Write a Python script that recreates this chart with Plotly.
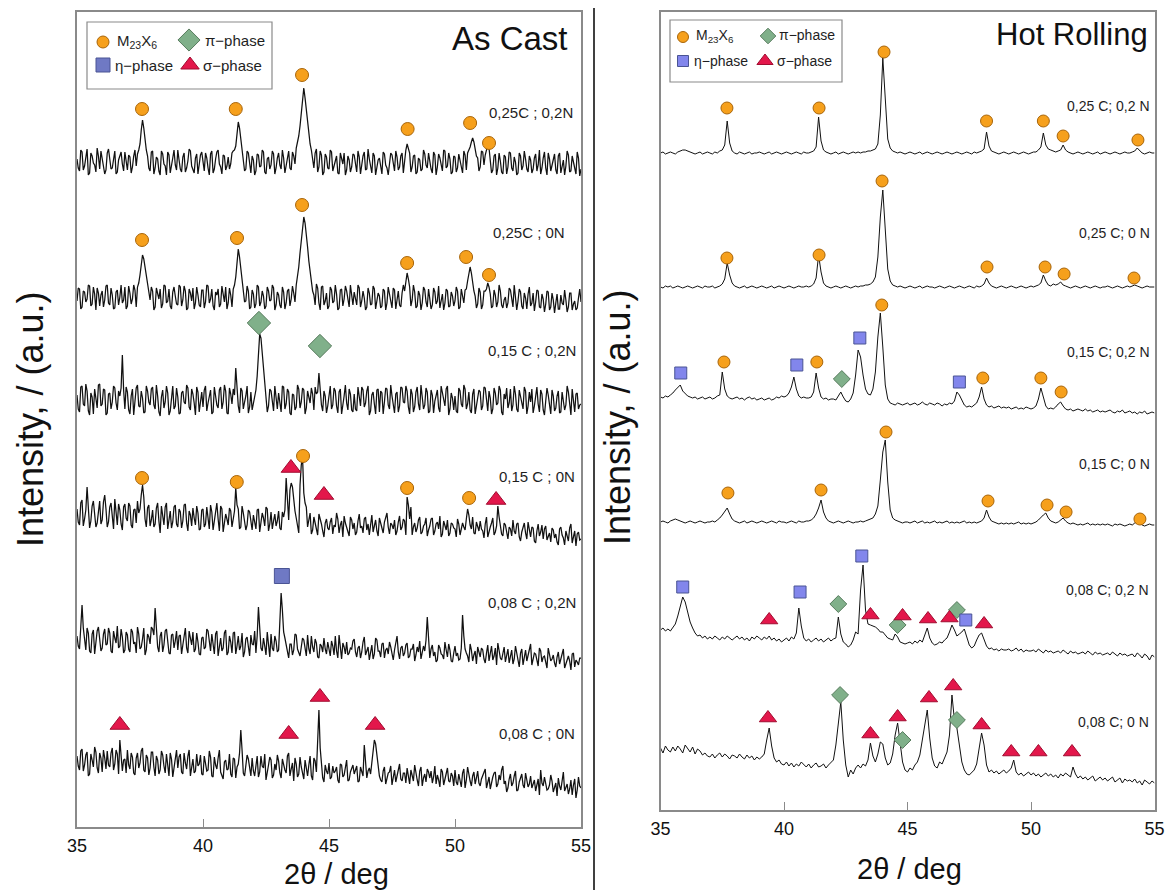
import plotly.graph_objects as go

# ---------------- data ----------------
TWO_THETA = [round(35 + 0.1 * i, 2) for i in range(201)]          # hot-rolling scan grid, deg
TWO_THETA_FINE = [round(35 + 0.05 * i, 2) for i in range(401)]    # as-cast scan grid, deg

# As Cast panel (intensity, a.u., relative to each pattern's own baseline)
AC_LABELS = ["0,25C ; 0,2N", "0,25C ; 0N", "0,15 C ; 0,2N", "0,15 C ; 0N", "0,08 C ; 0,2N", "0,08 C ; 0N"]
AC_OFFSETS = [665, 530, 427, 312, 187, 65]

# readings at 35.0, 35.1, ... 55.0
AC_025C_02N = [3,-9,10,-4,13,-11,6,-3,14,-7, 4,-12,9,1,-6,11,-10,7,-2,10, -8,5,-5,12,8,18,42,20,6,-9,
               11,-6,3,-13,8,-4,10,-11,4,-3, 12,-7,5,-10,1,11,-9,4,-12,7, -3,9,-6,8,-11,3,12,-5,7,-8,
               5,-2,11,16,40,22,4,-7,9,-11, 2,-9,7,-4,10,-12,5,-3,8,-6, 9,-7,4,-2,11,-8,6,14,26,48,
               74,52,28,12,-6,13,-5,7,-10,5, -7,10,-3,6,-12,4,9,-8,2,-5, 7,-10,5,-2,10,-7,3,-11,6,-3,
               4,-12,8,-6,1,7,-9,5,-5,9, 3,18,9,-5,7,-10,2,-7,8,-6, 0,-11,7,-5,4,-9,11,-4,3,-10,
               5,-6,2,-11,7,9,15,24,12,4, -5,10,7,17,4,-8,8,-6,1,-12, 5,-5,9,-9,0,-11,6,-4,3,-10,
               2,-7,8,-3,-12,4,-6,9,-9,1, -8,6,-11,2,-4,7,-9,0,-12,4, -7]
AC_025C_0N = [-4,8,-10,5,-2,11,-7,3,9,-9, 6,-3,12,-8,2,-11,7,0,-6,10, -9,4,-2,7,10,22,42,30,12,-3,
              6,-10,3,8,-7,11,-4,-9,5,1, -8,10,-3,6,-11,4,9,-6,2,-10, 7,-5,11,-2,-9,5,8,-7,3,10,
              -6,2,8,20,48,28,9,-4,6,-10, 3,-7,10,-5,1,-9,6,-3,9,-8, 2,-11,5,-6,8,-2,4,12,30,56,
              80,64,36,14,2,13,-6,10,-8,4, -9,7,-4,3,-11,8,-2,6,-10,2, 5,-8,9,-4,-1,-10,4,-7,8,-5,
              1,-9,6,-6,3,-11,7,-2,-8,4, 6,24,10,-3,5,-9,2,-6,7,-10, -2,-8,5,-4,-11,3,-6,6,-9,1,
              -4,6,-10,2,7,16,30,14,1,-7, 5,-8,6,14,3,-9,2,-5,6,-11, 0,-6,7,-10,2,-4,5,-12,-1,3,
              -9,4,-5,6,-11,-2,-7,5,-10,-3, -6,-12,2,-8,-3,-10,4,-7,-13,-1, -5]
AC_015C_02N = [5,-12,14,-6,9,-15,3,11,-8,16, -4,10,-13,7,-2,12,-10,4,45,-9, 8,-14,11,-3,15,-7,2,-12,9,-5,
               13,-9,4,-16,10,-2,7,-11,14,-6, 3,-13,9,-4,12,-10,6,-15,8,1, -7,14,-3,10,-12,5,-8,13,-2,9,
               -14,6,11,32,-6,12,-9,4,-13,8, -3,10,50,62,30,8,-6,9,-11,3, 7,-12,13,-4,8,-15,5,-7,11,-2,
               10,-8,4,12,-10,6,27,-5,9,-13, 3,-9,12,-6,8,-14,4,-3,11,-10, 6,-11,2,13,-7,9,-15,5,-4,10,
               -12,7,-2,11,-9,4,-13,8,-6,12, -3,9,-14,6,-7,13,-10,3,-5,8, -11,5,-1,10,-12,7,-6,14,-9,2,
               4,-13,9,-7,11,-4,-10,6,-14,3, 8,-6,12,-11,2,-9,7,-3,10,-15, 1,-8,11,-5,6,-12,3,-9,9,-6,
               -2,-13,7,-4,10,-10,-1,5,-14,4, -8,9,-12,1,-5,8,-15,-2,6,-9, -4]
AC_015C_0N = [6,-10,15,-4,28,-13,9,2,-8,14, -5,20,-12,8,-1,16,-10,5,-15,11, -6,9,-13,6,14,6,30,-4,7,-11,
              5,-9,12,-18,1,8,-14,4,-7,10, -12,3,-6,11,-16,0,7,-10,2,-14, 6,-9,-1,10,-15,3,-4,9,-17,1,
              -10,4,-3,27,6,-12,2,-15,5,-8, 0,-14,6,-9,-3,8,-16,3,-6,-11, 4,-15,-2,37,-5,32,14,-3,-18,50,
              22,8,-6,-19,-2,-14,1,-9,-22,-4, -15,-3,-10,2,-18,-6,-1,-13,-21,-5, -8,-17,1,-11,-4,-15,-20,0,-9,-16,
              -3,-14,-7,2,-19,-10,-5,-16,-1,-12, -6,18,-4,-20,-8,-13,-2,-17,-9,-21, -11,-3,-16,-7,-1,-19,-12,-5,-18,-9,
              -14,-4,-20,-8,-15,6,-10,-2,-19,-11, -6,-16,-9,-22,-12,-3,-17,9,-13,-21, -10,-24,-14,-5,-19,-8,-26,-12,-18,-7,
              -22,-13,-28,-9,-17,-24,-11,-20,-27,-15, -19,-30,-12,-23,-16,-26,-9,-21,-31,-17, -24]
AC_008C_02N = [4,-9,35,-3,12,-11,6,-14,9,-2, -8,11,-4,7,-13,2,14,-6,3,-10, 5,-12,8,-2,13,-9,1,-15,6,-4,
               11,32,-7,4,-12,9,-3,-14,6,-1, -10,5,-5,12,-13,1,8,-9,-2,-15, 3,-7,9,-11,-4,6,-16,2,-8,10,
               -12,-2,7,-14,4,-6,-17,1,-10,5, -5,-13,33,-8,2,-15,-3,6,-11,-1, -10,47,8,-6,-18,-4,-10,5,-13,-7,
               0,-16,-9,4,-12,-3,-18,-6,2,-14, -8,-1,-15,-11,5,-19,-7,-2,-13,-9, 1,-17,-6,-12,3,-10,-20,-5,-14,0,
               -11,-4,-18,-8,-2,-15,-10,4,-19,-6, -13,-3,-16,-9,-21,-7,-1,-14,-11,23, -18,-5,-12,-20,-8,-15,-2,-17,-10,-22,
               -6,-13,-19,25,-9,-16,-4,-21,-11,-7, -17,-10,-23,-5,-14,-20,-8,-3,-18,-12, -22,-9,-15,-24,-6,-19,-13,-25,-10,-16,
               -4,-20,-14,-26,-11,-17,-23,-8,-21,-15, -27,-12,-19,-9,-24,-16,-30,-13,-20,-25, -18]
AC_008C_0N = [6,-8,13,-3,10,-12,2,15,-6,9, -10,4,11,-5,14,-2,8,22,-9,3, 12,-7,5,-13,9,-1,14,-10,4,-6,
              10,-14,2,-8,7,-11,-3,9,-15,1, -6,8,-12,-1,6,-14,3,-9,-4,7, -13,0,-8,5,-15,-3,4,-10,-17,2,
              -7,-12,4,-16,-2,32,-11,-5,3,-14, -9,-1,-15,6,-6,-18,-3,2,-13,-8, 1,-16,-4,-11,9,-7,-19,-2,-12,-5,
              -17,-8,-3,-14,4,-10,52,-6,-20,-9, -1,-15,-11,-5,-21,-3,-13,2,-18,-7, -12,-4,-19,-9,17,-16,-6,-1,22,8,
              -14,-20,-5,-17,-10,-23,-8,-13,-2,-19, -11,-6,-22,-15,-3,-18,-9,-24,-12,-7, -16,-21,-4,-13,-25,-10,-18,-6,-20,-14,
              -8,-23,-17,-11,-26,-5,-19,-14,-22,-9, -24,-13,-7,-20,-27,-15,-10,-22,-18,-4, -19,-26,-12,-21,-9,-28,-16,-23,-11,-25,
              -14,-22,-29,-17,-8,-24,-20,-27,-13,-30, -21,-16,-28,-10,-25,-32,-18,-23,-36,-15, -26]

# readings at 35.05, 35.15, ... 54.95
AC_025C_02N_MID = [-6,12,-8,5,-13,9,-1,-10,6,11, -4,-8,13,-7,4,-12,2,10,-9,3, 7,-11,6,-4,12,32,34,12,-6,10,
                   -12,5,-9,11,-2,-13,7,-5,12,-8, 2,-10,9,-6,13,-4,-11,8,-3,10, -9,4,-13,11,-7,10,-2,-12,6,-4,
                   -7,9,12,30,34,12,-9,11,-4,6, -13,8,-5,12,-10,3,-7,11,-12,4, -3,12,-11,7,-6,10,-2,20,36,66,
                   64,40,18,4,9,-10,11,-13,8,-6, 12,-9,3,-11,9,-2,-13,6,-10,8, -4,11,-12,6,-8,13,-5,9,-13,2,
                   -6,10,-3,-13,9,-2,11,-8,6,-11, 12,14,-10,6,-12,4,-9,12,-3,9, -7,10,-13,8,-2,12,-6,9,-12,6,
                   -10,8,-5,11,-8,12,20,20,6,-9, 11,-3,12,14,-11,6,-13,9,-10,7, -12,10,-6,5,-13,9,-8,11,-7,6,
                   -11,4,-9,12,-6,10,-13,3,-4,8, -12,9,-6,-13,11,-10,6,-8,10,-14]
AC_025C_0N_MID = [9,-12,6,-5,12,-9,10,-13,4,2, -10,11,-6,9,-12,5,-8,12,-3,-12, 11,-7,12,-10,14,34,38,20,4,10,
                  -13,9,-2,-11,12,-6,8,-12,10,-7, 12,-9,11,-13,8,-4,-12,10,-8,7, -11,12,-6,8,-13,2,-10,11,-5,-12,
                  9,-10,12,36,40,18,-5,11,-12,7, -11,12,-9,6,-12,10,-4,12,-13,5, -8,10,-12,6,-9,11,-5,20,44,70,
                  74,50,24,6,-8,9,-13,11,-4,-12, 10,-6,12,-13,7,-9,11,-5,12,-8, -3,12,-10,6,-13,9,-8,11,-12,4,
                  -11,8,-13,10,-4,9,-12,6,-10,12, 16,18,-9,12,-11,6,-13,10,-5,8, -12,9,-7,11,-4,-13,8,-10,5,-9,
                  10,-12,8,-6,8,24,24,6,-11,9, -12,6,8,10,-11,7,-10,12,-8,-3, -11,9,-5,12,-13,8,-9,4,-12,10,
                  -6,-14,7,-10,3,-15,6,-13,4,-16, 3,-12,-6,7,-15,4,-13,-4,-11,8]
AC_015C_02N_MID = [-9,13,-4,16,-11,7,-14,2,15,-6, 11,-15,6,-9,14,-3,9,12,10,13, -10,4,-15,12,-6,9,-13,14,-2,11,
                   -5,15,-12,3,-8,14,-15,6,-9,12, -14,7,-2,15,-7,11,-3,13,-12,8, 10,-11,6,-14,13,-5,10,-9,15,-13,
                   12,-4,5,8,-13,9,-2,14,-7,-10, 6,24,66,48,16,-12,11,-5,14,-9, -4,14,-9,11,-13,6,-10,15,-8,12,
                   -14,9,-3,6,13,8,12,-11,4,-6, 14,-5,9,-13,11,-7,15,-10,6,-12, -9,13,-6,10,-3,14,-11,8,-14,11,
                   9,-14,12,-5,15,-8,6,-12,13,-2, 14,-7,11,-12,8,-4,15,-9,12,-13, 10,-13,6,-8,14,-2,11,-15,7,-10,
                   -11,12,-4,15,-9,8,-13,11,-6,10, -10,13,-2,9,-14,12,-5,14,-12,6, 12,-3,-11,14,-9,10,-4,13,-14,8,
                   11,-6,13,-12,6,-15,12,-8,10,-11, 4,-13,8,-10,14,-3,11,-12,7,-5]
AC_015C_0N_MID = [-7,12,-11,5,8,-6,14,-12,3,-9, 13,6,-7,12,-14,4,11,-9,8,-3, 12,-10,5,-8,2,20,18,-12,10,-5,
                  -12,7,-6,9,-10,12,-5,-13,8,-9, 6,-13,10,-8,4,-11,-3,9,-15,5, -12,8,-14,3,-7,12,-16,6,-10,-4,
                  7,-12,4,10,-14,9,-6,-10,3,-15, -8,5,-17,2,-11,6,-9,-14,1,-6, -13,3,5,20,25,28,4,-10,30,58,
                  12,-12,2,-15,-7,-20,-3,-16,-8,-13, -7,-19,-12,-4,-10,-22,-8,-16,-2,-14, -20,-6,-13,-18,-2,-9,-10,-17,-5,-21,
                  -9,-18,-2,-12,-8,-14,-20,-7,-15,-4, -20,10,8,-12,-17,-5,-19,-11,-3,-15, -4,-20,-9,-14,-22,-6,-15,-21,-8,-13,
                  -22,-9,-15,-12,-4,0,-14,-18,-7,-16, -14,-23,-2,-15,-8,-20,-11,-2,-19,-8, -18,-12,-21,-16,-9,-22,-17,-8,-24,-14,
                  -12,-26,-16,-21,-10,-14,-25,-18,-13,-23, -27,-14,-20,-30,-22,-13,-28,-16,-19,-25]
AC_008C_02N_MID = [-6,8,12,-10,7,-13,10,-4,13,-11, 6,-5,12,-11,9,-3,-8,11,-13,8, -9,11,-4,-13,6,-7,12,-10,3,13,
                   5,10,-12,8,-5,11,-13,5,-8,9, 4,-14,6,-8,9,-5,-12,7,-14,2, -9,11,-3,6,-14,9,-5,-11,7,-15,
                   4,-13,8,-6,-10,7,-12,3,-16,-4, 9,4,6,-11,-6,8,-17,-8,4,-12, 12,30,2,-12,-4,-15,6,-9,-16,2,
                   -10,5,-14,-7,1,-17,-4,-12,-9,-2, -16,-6,4,-18,-10,-3,-14,-15,-8,-1, -12,-8,-18,-2,-15,-7,-13,-19,2,-11,
                   -17,-3,-10,-14,-7,-20,-1,-12,-8,-16, -5,-18,-9,-4,-15,-12,-19,-6,0,2, -9,-16,-22,-5,-14,-19,-10,-4,-21,-13,
                   -16,-20,-8,4,-13,-22,-10,-15,-24,-12, -8,-19,-13,-21,-6,-16,-25,-11,-20,-7, -16,-23,-10,-19,-14,-27,-9,-18,-21,-11,
                   -25,-13,-19,-8,-22,-16,-28,-14,-19,-23, -17,-24,-12,-28,-19,-21,-14,-27,-22,-18]
AC_008C_0N_MID = [-4,11,-9,7,-14,8,-5,10,-11,4, 12,-7,-3,9,-8,12,-12,6,2,-11, -3,9,-11,4,-6,11,-8,7,-13,10,
                  -5,6,-12,11,-4,8,-14,3,-7,12, 5,-10,9,-7,12,-6,-11,8,-2,-12, 6,-9,11,-14,5,-7,12,-13,0,-8,
                  8,-15,3,-5,9,12,-14,7,-9,4, -14,6,-10,-4,8,-12,5,-16,-2,7, -11,3,-8,6,-14,-1,4,-15,5,-12,
                  2,-14,6,-18,1,20,14,-16,-3,-12, -17,-4,-9,-18,-2,-15,-6,-19,-10,-3, -8,-20,-5,-14,4,-9,-12,12,18,-6,
                  -18,-9,-22,-11,-4,-16,-20,-6,-17,-11, -21,-14,-8,-19,-12,-24,-5,-16,-20,-10, -9,-15,-22,-18,-7,-23,-13,-19,-11,-24,
                  -20,-12,-25,-7,-18,-14,-24,-10,-16,-21, -17,-9,-26,-15,-19,-11,-25,-13,-8,-22, -30,-17,-24,-14,-29,-20,-12,-26,-19,-22,
                  -26,-18,-24,-33,-21,-15,-28,-23,-19,-25, -34,-24,-19,-29,-22,-27,-33,-17,-28,-24]

# Hot Rolling panel, readings at 35.0, 35.1, ... 55.0
HR_LABELS = ["0,25 C; 0,2 N", "0,25 C; 0 N", "0,15 C; 0,2 N", "0,15 C; 0 N", "0,08 C; 0,2 N", "0,08 C; 0 N"]
HR_OFFSETS = [657, 523, 413, 288, 180, 60]

HR_025C_02N = [0,1,-1,0,1,0,-1,1,2,3, 3,2,1,0,-1,0,1,-1,0,1, 0,-1,1,0,2,3,8,32,10,2,
               0,-1,1,0,-1,0,1,-1,0,0, 1,0,-1,0,1,-1,0,1,0,-1, 0,1,0,-1,0,1,0,-1,1,0,
               0,1,2,6,36,12,3,1,0,-1, 0,1,-1,0,1,0,-1,0,1,0, 1,0,1,1,2,2,3,4,9,38,
               95,52,14,5,2,1,0,1,0,-1, 0,1,0,-1,0,1,-1,0,1,0, -1,0,1,0,-1,0,1,0,-1,0,
               1,0,-1,0,1,0,-1,1,0,1, 2,4,21,7,2,1,0,-1,0,1, 0,-1,0,1,0,-1,0,1,0,-1,
               0,1,1,3,6,20,8,4,3,2, 1,2,3,8,3,1,0,-1,0,1, 0,-1,0,1,0,-1,0,1,-1,0,
               1,0,-1,0,1,0,-1,0,1,0, 0,1,2,5,2,0,-1,0,1,0, 0]
HR_025C_0N = [0,-1,1,0,1,-1,0,1,0,-1, 0,1,0,-1,0,1,0,-1,1,0, 0,1,-1,0,1,3,8,24,12,4,
              1,0,-1,0,1,-1,0,1,0,-1, 0,1,0,-1,0,1,-1,0,1,0, -1,0,1,0,-1,0,1,0,0,1,
              0,1,3,9,32,15,4,1,0,-1, 0,1,0,-1,0,1,0,-1,0,1, 0,1,1,2,2,3,5,10,30,70,
              97,58,18,6,2,1,0,1,0,-1, 0,1,0,-1,0,1,-1,0,1,0, 0,-1,0,1,0,-1,0,1,0,-1,
              0,1,0,-1,0,1,0,-1,1,0, 1,3,9,4,1,0,-1,0,1,0, -1,0,1,0,-1,0,1,0,-1,0,
              1,0,1,2,4,12,6,2,1,3, 2,3,5,2,1,0,-1,0,1,0, -1,0,1,0,-1,0,1,0,-1,0,
              0,1,0,-1,0,1,0,-1,0,1, 0,1,2,1,0,-1,0,1,0,0, 0]
HR_015C_02N = [0,-1,1,0,2,4,7,10,12,6, 3,1,0,-1,0,-2,-1,0,-2,-1, 0,-2,-1,1,2,25,8,1,-1,-2,
               -1,0,-2,-1,-3,-1,0,-2,-1,-3, -2,-1,-3,-2,-1,-3,-2,0,-1,1, 0,1,4,10,20,8,1,-1,0,-1,
               -1,0,5,24,9,0,-2,-1,-3,-2, -2,-3,1,5,0,-4,-5,-2,4,22, 47,40,22,8,3,2,8,25,60,84,
               50,12,-2,-6,-7,-8,-6,-7,-8,-7, -6,-8,-7,-6,-8,-7,-5,-7,-8,-6, -7,-8,-6,-7,-9,-7,-8,-6,-7,-4,
               5,2,-3,-8,-10,-9,-10,-8,-6,0, 10,-2,-8,-10,-9,-11,-10,-9,-11,-10, -11,-10,-12,-11,-10,-12,-11,-12,-10,-11,
               -12,-11,-9,-2,9,0,-9,-12,-11,-12, -10,-7,-5,-9,-12,-13,-12,-14,-13,-12, -13,-14,-12,-14,-13,-15,-14,-13,-15,-14,
               -15,-14,-13,-15,-16,-14,-15,-13,-16,-15, -14,-16,-15,-17,-15,-16,-14,-17,-16,-15, -16]
HR_015C_0N = [0,1,0,-1,1,2,3,2,1,0, -1,0,1,0,-1,0,1,0,-1,0, 0,1,0,2,4,7,11,14,8,3,
              1,0,-1,0,1,-1,0,1,0,-1, 0,1,0,-1,0,1,0,-1,1,0, 0,-1,0,1,0,-1,1,0,0,1,
              1,2,4,8,14,22,10,4,1,0, -1,0,1,0,-1,0,1,0,-1,0, 0,1,0,1,2,3,4,8,16,42,
              70,82,40,12,4,2,1,0,-1,0, 0,-1,0,1,-1,0,1,-1,0,-1, 0,1,-1,0,-1,0,1,-1,0,-1,
              0,-1,0,1,-1,0,-1,0,-1,0, 1,4,12,5,1,0,-1,-2,-1,-2, -1,-2,-1,-2,-1,0,-2,-1,-2,-1,
              -2,-1,0,2,5,7,9,4,1,0, -1,0,2,4,1,-1,-2,-1,-2,-3, -2,-3,-2,-1,-3,-2,-3,-2,-3,-2,
              -3,-2,-3,-4,-2,-3,-2,-3,-4,-3, -2,-3,-1,0,-1,-3,-4,-3,-2,-3, -3]
HR_008C_02N = [0,2,-1,1,-1,2,6,14,24,33, 28,18,8,2,-3,-6,-5,-8,-6,-9, -7,-9,-6,-8,-10,-7,-9,-6,-8,-10,
               -8,-6,-9,-7,-10,-8,-11,-7,-9,-6, -8,-10,-7,-9,-6,-10,-8,-11,-9,-12, -10,-8,-11,-7,-9,-3,22,4,-8,-11,
               -9,-12,-10,-8,-11,-9,-12,-10,-8,-11, -9,-8,13,-4,-12,-14,-17,-15,-10,-2, -4,40,65,20,6,5,4,3,1,-2,
               -2,-5,-8,-9,-10,-4,-7,-12,-13,-14, -13,-12,-14,-11,-13,-10,-12,-5,2,-8, -13,-15,-14,-12,-13,-10,-8,-2,5,0,
               -6,-4,-2,1,-8,-15,-18,-16,-10,-5, -3,-10,-16,-19,-18,-20,-19,-21,-19,-20, -20,-19,-21,-20,-18,-21,-19,-22,-20,-21,
               -21,-20,-22,-19,-21,-23,-20,-22,-21,-23, -22,-21,-23,-20,-22,-24,-21,-23,-22,-24, -23,-22,-24,-21,-23,-25,-22,-24,-23,-25,
               -24,-23,-25,-22,-24,-26,-23,-25,-24,-26, -25,-24,-27,-23,-25,-28,-24,-26,-30,-25, -27]
HR_008C_0N = [2,-3,4,0,-2,3,-1,4,1,-3, 5,2,-2,3,-4,1,-1,-5,-3,-6, -7,-4,-8,-5,-3,-7,-4,-6,-9,-5,
              -6,-8,-4,-7,-9,-5,-8,-6,-10,-7, -9,-7,-4,10,22,4,-8,-12,-10,-14, -15,-12,-16,-13,-17,-14,-16,-12,-15,-17,
              -14,-18,-15,-13,-17,-16,-14,-18,-15,-12, -10,5,30,48,10,-15,-27,-20,-24,-18, -15,-18,-14,-16,-10,7,-6,-12,-4,8,
              6,-8,-15,-13,-4,15,27,10,-12,-20, -22,-18,-20,-15,-12,-5,10,25,40,12, -8,-16,-18,-12,-14,-8,-2,15,55,30,
              22,5,-12,-20,-24,-25,-22,-20,-14,0, 17,5,-15,-22,-20,-23,-21,-24,-22,-20, -23,-21,-18,-10,-22,-25,-23,-26,-24,-22,
              -25,-23,-26,-24,-27,-25,-23,-26,-24,-27, -25,-28,-24,-26,-23,-25,-27,-17,-24,-28, -26,-29,-27,-30,-28,-26,-31,-29,-27,-30,
              -28,-31,-29,-27,-32,-30,-28,-33,-29,-31, -30,-32,-29,-33,-31,-35,-30,-32,-34,-31, -33]

AC_COARSE = [AC_025C_02N, AC_025C_0N, AC_015C_02N, AC_015C_0N, AC_008C_02N, AC_008C_0N]
AC_MID = [AC_025C_02N_MID, AC_025C_0N_MID, AC_015C_02N_MID, AC_015C_0N_MID, AC_008C_02N_MID, AC_008C_0N_MID]
HR_SERIES = [HR_025C_02N, HR_025C_0N, HR_015C_02N, HR_015C_0N, HR_008C_02N, HR_008C_0N]

# phase identification marks (2theta, stacked intensity)
AC_MARK_PHASE = ["M"]*6 + ["M"]*6 + ["pi"]*2 + ["M"]*5 + ["sigma"]*3 + ["eta"] + ["sigma"]*4
AC_MARK_X = [37.58, 41.3, 43.93, 48.12, 50.6, 51.35,
             37.58, 41.35, 43.93, 48.1, 50.44, 51.35,
             42.22, 44.64,
             37.58, 41.34, 43.97, 48.1, 50.56, 43.49, 44.8, 51.63,
             43.13,
             36.7, 43.4, 44.64, 46.83]
AC_MARK_Y = [718, 718, 752, 698, 704, 684,
             587, 589, 622, 564, 570, 552,
             504, 481,
             349, 345, 371, 339, 329, 359, 332, 327,
             251,
             102, 93, 130, 102]

HR_MARK_PHASE = (["M"]*7 + ["M"]*7 + ["eta"]*4 + ["M"]*6 + ["pi"] + ["M"]*7
                 + ["eta"]*4 + ["pi"]*3 + ["sigma"]*6 + ["sigma"]*9 + ["pi"]*3)
HR_MARK_X = [37.69, 41.42, 44.05, 48.2, 50.5, 51.3, 54.33,
             37.69, 41.42, 43.97, 48.22, 50.57, 51.34, 54.17,
             35.82, 40.52, 43.07, 47.1, 37.57, 41.33, 43.96, 48.05, 50.4, 51.22, 42.34,
             37.73, 41.5, 44.13, 48.26, 50.65, 51.42, 54.41,
             35.9, 40.65, 43.15, 47.36, 42.2, 44.6, 47.0, 39.4, 43.5, 44.8, 45.83, 46.7, 48.1,
             39.35, 43.5, 44.6, 45.87, 46.85, 48.0, 49.2, 50.3, 51.66, 42.27, 44.8, 47.0]
HR_MARK_Y = [702, 702, 758, 689, 689, 674, 670,
             552, 555, 629, 543, 543, 536, 532,
             437, 445, 472, 428, 448, 448, 505, 432, 432, 418, 431,
             317, 320, 378, 309, 305, 298, 291,
             223, 218, 254, 190, 206, 185, 200, 190, 195, 194, 191, 192, 186,
             92, 76, 93, 112, 124, 85, 58, 58, 58, 115, 70, 90]

PHASES = ["M", "pi", "eta", "sigma"]
LEGEND_TEXT = {"M": "M<sub>23</sub>X<sub>6</sub>", "pi": "π−phase", "eta": "η−phase", "sigma": "σ−phase"}

# ---------------- styles ----------------
FONT = "Liberation Sans, Arial, sans-serif"
STYLE = {
    "M": dict(symbol="circle", color="#F6A01C", line=dict(color="#A8650A", width=1)),
    "pi": dict(symbol="diamond", color="#80B08A", line=dict(color="#587C5E", width=1)),
    "eta": dict(symbol="square", color="#6F79C4", line=dict(color="#4A5494", width=1)),
    "sigma": dict(symbol="triangle-up", color="#E3174B", line=dict(color="#A00D30", width=1)),
}
SIZE_L = {"M": 13, "pi": 18, "eta": 15, "sigma": 17}
SIZE_R = {"M": 12, "pi": 13, "eta": 12, "sigma": 15}
ETA_R_COLOR = "#8286EC"

for s in AC_COARSE + HR_SERIES:
    if len(s) != 201:
        raise ValueError(f"coarse series length {len(s)}")
for s in AC_MID:
    if len(s) != 200:
        raise ValueError(f"mid series length {len(s)}")

def merge(coarse, mid):
    out = []
    for a, b in zip(coarse, mid):
        out += [a, b]
    return out + [coarse[-1]]

fig = go.Figure()

# patterns
for c, m, off in zip(AC_COARSE, AC_MID, AC_OFFSETS):
    fig.add_trace(go.Scatter(x=TWO_THETA_FINE, y=[off + v for v in merge(c, m)], mode="lines",
                             line=dict(color="#111111", width=1.25), xaxis="x", yaxis="y",
                             showlegend=False, hoverinfo="skip"))
for vals, off in zip(HR_SERIES, HR_OFFSETS):
    fig.add_trace(go.Scatter(x=TWO_THETA, y=[off + v for v in vals], mode="lines",
                             line=dict(color="#111111", width=1), xaxis="x2", yaxis="y2",
                             showlegend=False, hoverinfo="skip"))

def add_marks(phases, xs, ys, xa, ya, sizes, right):
    for ph in PHASES:
        px = [x for p, x in zip(phases, xs) if p == ph]
        py = [y for p, y in zip(phases, ys) if p == ph]
        if not px:
            continue
        st = STYLE[ph]
        col = ETA_R_COLOR if (right and ph == "eta") else st["color"]
        fig.add_trace(go.Scatter(x=px, y=py, mode="markers", xaxis=xa, yaxis=ya,
                                 marker=dict(symbol=st["symbol"], size=sizes[ph], color=col, line=st["line"]),
                                 showlegend=False, hoverinfo="skip"))

add_marks(AC_MARK_PHASE, AC_MARK_X, AC_MARK_Y, "x", "y", SIZE_L, False)
add_marks(HR_MARK_PHASE, HR_MARK_X, HR_MARK_Y, "x2", "y2", SIZE_R, True)

# legend keys drawn on a full-page overlay (pixel units)
LEG_L = {"M": (103, 42), "pi": (189, 40), "eta": (103, 65), "sigma": (190, 65)}
LEG_L_TXT = {"M": (115, 41), "pi": (203, 40), "eta": (113, 65), "sigma": (201, 65)}
LEG_R = {"M": (683, 37), "pi": (768, 36), "eta": (683, 61), "sigma": (765, 61)}
LEG_R_TXT = {"M": (694, 36), "pi": (777, 35), "eta": (692, 61), "sigma": (775, 61)}

for ph in PHASES:
    st = STYLE[ph]
    for pos, sizes, right in ((LEG_L, SIZE_L, False), (LEG_R, SIZE_R, True)):
        col = ETA_R_COLOR if (right and ph == "eta") else st["color"]
        fig.add_trace(go.Scatter(x=[pos[ph][0]], y=[pos[ph][1]], mode="markers", xaxis="x3", yaxis="y3",
                                 marker=dict(symbol=st["symbol"], size=sizes[ph] - 1, color=col, line=st["line"]),
                                 showlegend=False, hoverinfo="skip"))

ann = []
def txt(x, y, t, size, anchor="left", color="#1e1e1e", angle=0):
    ann.append(dict(x=x, y=y, xref="x3", yref="y3", text=t, showarrow=False, xanchor=anchor,
                    yanchor="middle", textangle=angle, font=dict(family=FONT, size=size, color=color)))

for ph in PHASES:
    txt(*LEG_L_TXT[ph], LEGEND_TEXT[ph], 15)
    txt(*LEG_R_TXT[ph], LEGEND_TEXT[ph], 14)

AC_LABEL_POS = [(575, 112), (567, 232), (578, 350), (577, 476), (578, 602), (577, 733)]
HR_LABEL_POS = [(1152, 106), (1152, 233), (1152, 352), (1152, 464), (1151, 590), (1151, 722)]
for lab, (x, y) in zip(AC_LABELS, AC_LABEL_POS):
    txt(x, y, lab, 15, anchor="right")
for lab, (x, y) in zip(HR_LABELS, HR_LABEL_POS):
    txt(x, y, lab, 14, anchor="right")

txt(570, 38, "As Cast", 33, anchor="right", color="#111111")
txt(1150, 34, "Hot Rolling", 31, anchor="right", color="#111111")
txt(336, 874, "2θ / deg", 29, anchor="center", color="#111111")
txt(909, 869, "2θ / deg", 29, anchor="center", color="#111111")
txt(30, 420, "Intensity, / (a.u.)", 36, anchor="center", color="#111111", angle=-90)
txt(617, 418, "Intensity, / (a.u.)", 36, anchor="center", color="#111111", angle=-90)

W, H = 1169, 890
axis_x = dict(range=[35, 55], tickvals=[35, 40, 45, 50, 55], ticks="inside", ticklen=8, tickwidth=1.2,
              tickcolor="#8a8a8a", showline=True, mirror=True, linecolor="#8a8a8a", linewidth=1.5,
              showgrid=False, zeroline=False, tickfont=dict(family=FONT, size=18, color="#111111"),
              ticklabelstandoff=2, fixedrange=True, automargin=False)
axis_y = dict(showticklabels=False, ticks="", showline=True, mirror=True, linecolor="#8a8a8a",
              linewidth=1.5, showgrid=False, zeroline=False, fixedrange=True, automargin=False)

fig.update_layout(
    width=W, height=H, autosize=False,
    margin=dict(l=0, r=0, t=0, b=0, pad=0, autoexpand=False),
    paper_bgcolor="white", plot_bgcolor="rgba(0,0,0,0)", showlegend=False,
    xaxis=dict(axis_x, domain=[77 / W, 581 / W], anchor="y"),
    yaxis=dict(axis_y, domain=[(H - 827) / H, (H - 12) / H], range=[0, 815], anchor="x"),
    xaxis2=dict(axis_x, domain=[660.5 / W, 1154.5 / W], anchor="y2"),
    yaxis2=dict(axis_y, domain=[(H - 810) / H, (H - 12) / H], range=[0, 798], anchor="x2"),
    xaxis3=dict(domain=[0, 1], range=[0, W], visible=False, anchor="y3", fixedrange=True),
    yaxis3=dict(domain=[0, 1], range=[H, 0], visible=False, anchor="x3", fixedrange=True),
    annotations=ann,
    shapes=[
        dict(type="rect", xref="x3", yref="y3", x0=87, y0=22, x1=272, y1=89,
             line=dict(color="#8a8a8a", width=1.2)),
        dict(type="rect", xref="x3", yref="y3", x0=670, y0=20, x1=842, y1=82,
             line=dict(color="#8a8a8a", width=1.2)),
        dict(type="line", xref="x3", yref="y3", x0=594, y0=8, x1=594, y1=890,
             line=dict(color="#000000", width=1.5)),
    ],
)

fig.write_html("out.html")
